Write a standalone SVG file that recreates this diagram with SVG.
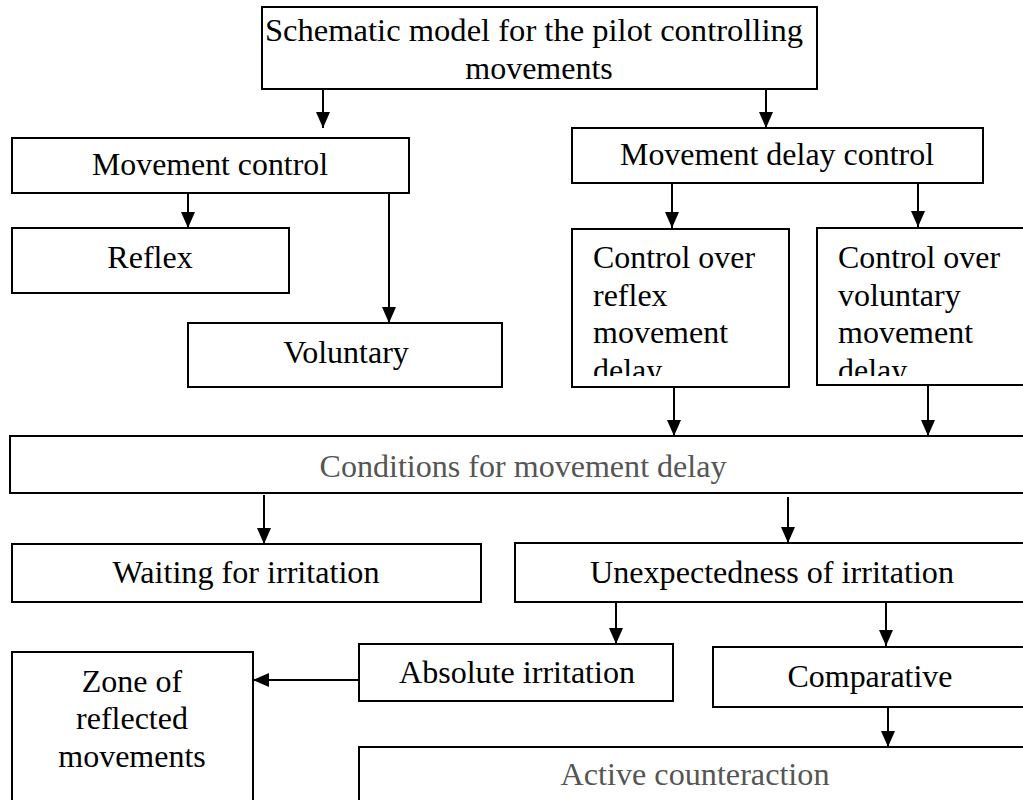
<svg xmlns="http://www.w3.org/2000/svg" width="1023" height="800" viewBox="0 0 1023 800">
<style>
.box{fill:#fff;stroke:#000;stroke-width:2}
.con line{stroke:#000;stroke-width:2;marker-end:url(#ah)}
</style>
<defs>
<marker id="ah" markerUnits="userSpaceOnUse" markerWidth="16" markerHeight="14" refX="16" refY="7" orient="auto">
<path d="M0,0 L16,7 L0,14 z" fill="#000"/>
</marker>
<clipPath id="clipCR"><rect x="572" y="229" width="217" height="147"/></clipPath>
<clipPath id="clipCV"><rect x="817" y="228" width="220" height="148"/></clipPath>
</defs>
<rect width="1023" height="800" fill="#fff"/>

<g id="top">
<rect class="box" x="262" y="7" width="555" height="82"/>
<text font-family="Liberation Serif" font-size="32" text-anchor="middle" x="534" y="41" textLength="538" lengthAdjust="spacingAndGlyphs">Schematic model for the pilot controlling</text>
<text font-family="Liberation Serif" font-size="32" text-anchor="middle" x="539" y="79">movements</text>
</g>
<g id="movement-control">
<rect class="box" x="12" y="138" width="397" height="55"/>
<text font-family="Liberation Serif" font-size="32" text-anchor="middle" x="210" y="175" textLength="236" lengthAdjust="spacingAndGlyphs">Movement control</text>
</g>
<g id="movement-delay-control">
<rect class="box" x="572" y="128" width="411" height="55"/>
<text font-family="Liberation Serif" font-size="32" text-anchor="middle" x="777" y="165" textLength="314" lengthAdjust="spacingAndGlyphs">Movement delay control</text>
</g>
<g id="reflex">
<rect class="box" x="12" y="228" width="277" height="65"/>
<text font-family="Liberation Serif" font-size="32" text-anchor="middle" x="150" y="268">Reflex</text>
</g>
<g id="voluntary">
<rect class="box" x="188" y="323" width="314" height="64"/>
<text font-family="Liberation Serif" font-size="32" text-anchor="middle" x="346" y="363">Voluntary</text>
</g>
<g id="control-reflex">
<rect class="box" x="572" y="229" width="217" height="158"/>
<g clip-path="url(#clipCR)">
<text font-family="Liberation Serif" font-size="32" x="593" y="268" textLength="162" lengthAdjust="spacingAndGlyphs">Control over</text>
<text font-family="Liberation Serif" font-size="32" x="593" y="306">reflex</text>
<text font-family="Liberation Serif" font-size="32" x="593" y="343">movement</text>
<text font-family="Liberation Serif" font-size="32" x="593" y="381">delay</text>
</g>
</g>
<g id="control-voluntary">
<rect class="box" x="817" y="228" width="220" height="157"/>
<g clip-path="url(#clipCV)">
<text font-family="Liberation Serif" font-size="32" x="838" y="268" textLength="162" lengthAdjust="spacingAndGlyphs">Control over</text>
<text font-family="Liberation Serif" font-size="32" x="838" y="306">voluntary</text>
<text font-family="Liberation Serif" font-size="32" x="838" y="343">movement</text>
<text font-family="Liberation Serif" font-size="32" x="838" y="381">delay</text>
</g>
</g>
<g id="conditions">
<rect class="box" x="10" y="436" width="1030" height="57"/>
<text font-family="Liberation Serif" font-size="32" text-anchor="middle" fill="#555" x="523" y="477" textLength="407" lengthAdjust="spacingAndGlyphs">Conditions for movement delay</text>
</g>
<g id="waiting">
<rect class="box" x="12" y="544" width="469" height="58"/>
<text font-family="Liberation Serif" font-size="32" text-anchor="middle" x="246" y="583" textLength="267" lengthAdjust="spacingAndGlyphs">Waiting for irritation</text>
</g>
<g id="unexpectedness">
<rect class="box" x="515" y="543" width="520" height="59"/>
<text font-family="Liberation Serif" font-size="32" text-anchor="middle" x="772" y="583" textLength="364" lengthAdjust="spacingAndGlyphs">Unexpectedness of irritation</text>
</g>
<g id="absolute">
<rect class="box" x="359" y="644" width="314" height="57"/>
<text font-family="Liberation Serif" font-size="32" text-anchor="middle" x="517" y="683" textLength="236" lengthAdjust="spacingAndGlyphs">Absolute irritation</text>
</g>
<g id="comparative">
<rect class="box" x="713" y="647" width="320" height="60"/>
<text font-family="Liberation Serif" font-size="32" text-anchor="middle" x="870" y="687" textLength="165" lengthAdjust="spacingAndGlyphs">Comparative</text>
</g>
<g id="zone">
<rect class="box" x="12" y="652" width="241" height="160"/>
<text font-family="Liberation Serif" font-size="32" text-anchor="middle" x="132" y="692">Zone of</text>
<text font-family="Liberation Serif" font-size="32" text-anchor="middle" x="132" y="729">reflected</text>
<text font-family="Liberation Serif" font-size="32" text-anchor="middle" x="132" y="767">movements</text>
</g>
<g id="active">
<rect class="box" x="359" y="747" width="680" height="70"/>
<text font-family="Liberation Serif" font-size="32" text-anchor="middle" fill="#555" x="695" y="785" textLength="269" lengthAdjust="spacingAndGlyphs">Active counteraction</text>
</g>

<g id="connectors" class="con">
<line x1="323" y1="89" x2="323" y2="128"/>
<line x1="766" y1="89" x2="766" y2="128"/>
<line x1="188" y1="193" x2="188" y2="228"/>
<line x1="389" y1="193" x2="389" y2="323"/>
<line x1="672" y1="183" x2="672" y2="228"/>
<line x1="918" y1="183" x2="918" y2="227"/>
<line x1="674" y1="387" x2="674" y2="436"/>
<line x1="928" y1="385" x2="928" y2="436"/>
<line x1="264" y1="495" x2="264" y2="544"/>
<line x1="788" y1="497" x2="788" y2="543"/>
<line x1="616" y1="602" x2="616" y2="644"/>
<line x1="886" y1="602" x2="886" y2="646"/>
<line x1="359" y1="680" x2="253" y2="680"/>
<line x1="888" y1="707" x2="888" y2="747"/>
</g>
</svg>
